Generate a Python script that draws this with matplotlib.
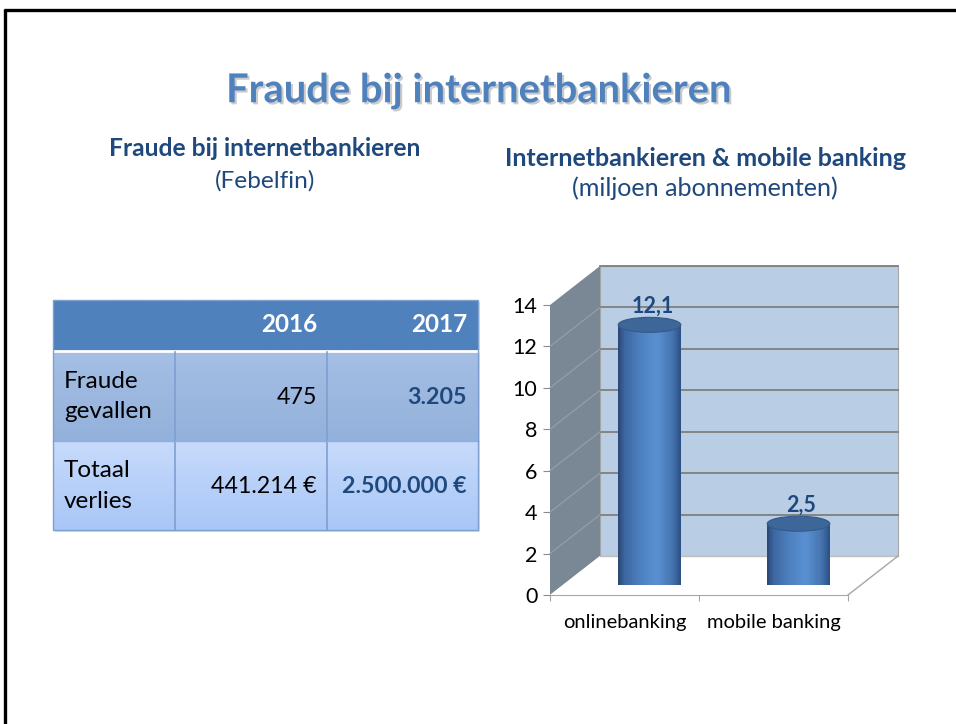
import matplotlib
matplotlib.use('Agg')
import matplotlib.pyplot as plt
import numpy as np
import matplotlib.patheffects as pe
from matplotlib.patches import Polygon, Ellipse, PathPatch, Rectangle
from matplotlib.path import Path
from matplotlib.transforms import IdentityTransform
from matplotlib.collections import PolyCollection
from matplotlib.colors import to_rgb, LinearSegmentedColormap

plt.rcParams['font.family'] = ['Lato', 'DejaVu Sans']

# ---------------- data ----------------
main_title = "Fraude bij internetbankieren"
table_title = "Fraude bij internetbankieren"
table_source = "(Febelfin)"
chart_title = "Internetbankieren & mobile banking"
chart_unit = "(miljoen abonnementen)"
years = ["2016", "2017"]
row_labels = ["Fraude\ngevallen", "Totaal\nverlies"]
fraud_cases = ["475", "3.205"]
total_loss = ["441.214 €", "2.500.000 €"]
categories = ["onlinebanking", "mobile banking"]
subscriptions = [12.1, 2.5]
y_ticks = [0, 2, 4, 6, 8, 10, 12, 14]

W, H = 956, 724
fig = plt.figure(figsize=(W / 100, H / 100), dpi=100)
renderer = fig.canvas.get_renderer()

bg = fig.add_axes([0, 0, 1, 1])
bg.axis('off')


def fit(t, target):
    w = t.get_window_extent(renderer).width
    t.set_fontsize(t.get_fontsize() * target / w)
    return t


def vgrad(x0, x1, y0, y1, c_top, c_bot, z):
    n = 64
    t = np.linspace(0, 1, n)[:, None]
    a = np.array(to_rgb(c_top))
    b = np.array(to_rgb(c_bot))
    img = (a * (1 - t) + b * t)[:, None, :]
    bg.imshow(img, extent=(x0, x1, y1, y0), aspect='auto', zorder=z,
              interpolation='bilinear')


# slide border
bg.plot([4, W], [9.5, 9.5], color='black', lw=2.4, solid_capstyle='butt', zorder=5)
bg.plot([5.5, 5.5], [8.5, H], color='black', lw=2.4, solid_capstyle='butt', zorder=5)

# titles
t = bg.text(478, 91, main_title, ha='center', va='center', fontweight='bold',
            color='#4F81BD', fontsize=30,
            path_effects=[pe.withSimplePatchShadow(offset=(1.5, -1.5),
                                                   shadow_rgbFace='#7f7f7f', alpha=0.4)])
fit(t, 505)
t = bg.text(265, 148, table_title, ha='center', va='center', fontweight='bold',
            color='#1F497D', fontsize=15)
fit(t, 314)
t = bg.text(265, 181, table_source, ha='center', va='center',
            color='#1F497D', fontsize=15)
fit(t, 100)
t = bg.text(706, 158, chart_title, ha='center', va='center', fontweight='bold',
            color='#1F497D', fontsize=15)
fit(t, 402)
t = bg.text(705, 188, chart_unit, ha='center', va='center',
            color='#1F497D', fontsize=15)
fit(t, 267)

# ---------------- table ----------------
xe = [53, 175, 327, 478]
ye = [300, 351, 441, 530]
bg.add_patch(Rectangle((xe[0] + 2, ye[0] + 2), xe[3] - xe[0], ye[3] - ye[0],
                       fc='#bfbfbf', ec='none', alpha=0.5, zorder=1))
vgrad(xe[0], xe[3], ye[0], ye[1], '#4F81BD', '#4F81BD', 2)
vgrad(xe[0], xe[3], ye[1], ye[2], '#A5BFE4', '#93B1DC', 2)
vgrad(xe[0], xe[3], ye[2], ye[3], '#C7DBFB', '#A8C6F7', 2)
bg.plot([xe[0], xe[3]], [ye[1], ye[1]], color='white', lw=2, zorder=3)
for x in xe[1:3]:
    bg.plot([x, x], [ye[1] + 1, ye[3]], color='#7F9FCF', lw=1.2, zorder=3)
bg.plot([xe[0], xe[3]], [ye[2], ye[2]], color='#8FAEDA', lw=1.0, zorder=3)
bg.add_patch(Rectangle((xe[0], ye[0]), xe[3] - xe[0], ye[3] - ye[0],
                       fc='none', ec='#7F9FCF', lw=1.0, zorder=3))

cols_right = [317, 467]
for x, yr in zip(cols_right, years):
    t = bg.text(x, 324, yr, ha='right', va='center', fontweight='bold',
                color='white', fontsize=17.5, zorder=4)

# size for row labels: fit "gevallen" to reference width
probe = bg.text(0, 0, row_labels[0].split('\n')[1], fontsize=17)
fit(probe, 88)
fs_lab = probe.get_fontsize()
probe.remove()
probe = bg.text(0, 0, total_loss[1], fontsize=17, fontweight='bold')
fit(probe, 125)
fs_val = probe.get_fontsize()
probe.remove()

row_y = [(ye[1] + ye[2]) / 2, (ye[2] + ye[3]) / 2]
for y, lab in zip(row_y, row_labels):
    l1, l2 = lab.split('\n')
    bg.text(64, y - 15, l1, ha='left', va='center', fontsize=fs_lab,
            color='black', zorder=4)
    bg.text(64, y + 16, l2, ha='left', va='center', fontsize=fs_lab,
            color='black', zorder=4)
for y, vals in zip(row_y, [fraud_cases, total_loss]):
    bg.text(cols_right[0], y + 1, vals[0], ha='right', va='center',
            fontsize=fs_val, color='black', zorder=4)
    bg.text(cols_right[1], y + 1, vals[1], ha='right', va='center',
            fontsize=fs_val, color='#1F497D', fontweight='bold', zorder=4)

bg.set_xlim(0, W)
bg.set_ylim(H, 0)

# ---------------- 3D-looking cylinder chart ----------------
ax = fig.add_axes([550 / W, (H - 595) / H, 298 / W, 290 / H])
ax.set_xlim(0, 2)
ax.set_ylim(0, 14)
ax.patch.set_visible(False)
DX, DY = 50, 39


def P(x, y, d=0.0):
    X, Y = ax.transData.transform((x, y))
    return (X + d * DX, Y + d * DY)


ID = IdentityTransform()


def poly(pts, **kw):
    p = Polygon(pts, closed=True, transform=ID, clip_on=False, **kw)
    ax.add_patch(p)
    return p


def line(p0, p1, **kw):
    ax.plot([p0[0], p1[0]], [p0[1], p1[1]], transform=ID, clip_on=False, **kw)


ymax = y_ticks[-1]
# back wall
poly([P(0, 0, 1), P(2, 0, 1), P(2, ymax, 1), P(0, ymax, 1)],
     fc='#B9CDE5', ec='#A6A6A6', lw=0.8, zorder=0.5)
# side wall
poly([P(0, 0, 0), P(0, ymax, 0), P(0, ymax, 1), P(0, 0, 1)],
     fc='#7A8896', ec='none', zorder=0.6)
# floor
poly([P(0, 0, 0), P(2, 0, 0), P(2, 0, 1), P(0, 0, 1)],
     fc='white', ec='none', zorder=0.6)
line(P(0, 0, 1), P(2, 0, 1), color='#BFBFBF', lw=1.0, zorder=0.7)
line(P(2, 0, 0), P(2, 0, 1), color='#A6A6A6', lw=1.0, zorder=0.7)
for v in y_ticks[1:]:
    line(P(0, v, 1), P(2, v, 1), color='#7F7F7F', lw=1.3, zorder=0.8)
    if v < ymax:
        line(P(0, v, 0), P(0, v, 1), color='#95A1AC', lw=0.8, zorder=0.8)

cmap = LinearSegmentedColormap.from_list(
    'cyl', [(0.0, '#2A4774'), (0.1, '#3C66A0'), (0.35, '#4D80BF'),
            (0.62, '#5A90D3'), (0.86, '#4675B0'), (1.0, '#2C5084')])
hw = 0.21
eh = 7.5
for i, v in enumerate(subscriptions):
    xc = i + 0.5
    Lx, By = P(xc - hw, 0, 0.5)
    Rx, _ = P(xc + hw, 0, 0.5)
    Tx, Ty = P(xc, v, 0.5)
    Bx = (Lx + Rx) / 2
    a = (Rx - Lx) / 2
    th = np.linspace(np.pi, 2 * np.pi, 60)
    arc = np.column_stack([Bx + a * np.cos(th), By + eh * np.sin(th)])
    verts = np.vstack([[[Lx, Ty]], arc, [[Rx, Ty]], [[Lx, Ty]]])
    body = PathPatch(Path(verts, closed=True), transform=ID, fc='none',
                     ec='none', clip_on=False, zorder=2)
    ax.add_patch(body)
    n = 80
    xs = np.linspace(Lx, Rx, n + 1)
    strips = [[(xs[k], By - eh - 2), (xs[k + 1] + 0.6, By - eh - 2),
               (xs[k + 1] + 0.6, Ty), (xs[k], Ty)] for k in range(n)]
    pc = PolyCollection(strips, facecolors=[cmap((k + 0.5) / n) for k in range(n)],
                        edgecolors='none', transform=ID, zorder=2, clip_on=False)
    ax.add_collection(pc)
    pc.set_clip_path(body)
    ax.add_patch(Ellipse((Tx, Ty), 2 * a, 2 * eh, transform=ID, fc='#3D6699',
                         ec='#34598A', lw=0.8, clip_on=False, zorder=3))
    lab = ('%.1f' % v).replace('.', ',')
    ax.text(Tx + 3, Ty + eh + 1, lab, transform=ID, ha='center', va='bottom',
            fontweight='bold', color='#1F497D', fontsize=15.5, zorder=4)

for s in ['left', 'top', 'right']:
    ax.spines[s].set_visible(False)
ax.spines['bottom'].set_color('#A6A6A6')
ax.spines['bottom'].set_zorder(1)
ax.set_yticks(y_ticks)
ax.set_yticklabels([str(v) for v in y_ticks])
ax.tick_params(axis='y', length=5, color='#8C8C8C', labelsize=15.5, pad=4,
               labelcolor='black')
ax.set_xticks([0, 1, 2])
ax.set_xticklabels([])
ax.set_xticks([0.5, 1.5], minor=True)
ax.set_xticklabels(categories, minor=True)
ax.tick_params(axis='x', which='major', length=4, color='#A6A6A6')
ax.tick_params(axis='x', which='minor', length=0, pad=14, labelsize=14.5,
               labelcolor='black')

fig.savefig('out.png', dpi=100)
